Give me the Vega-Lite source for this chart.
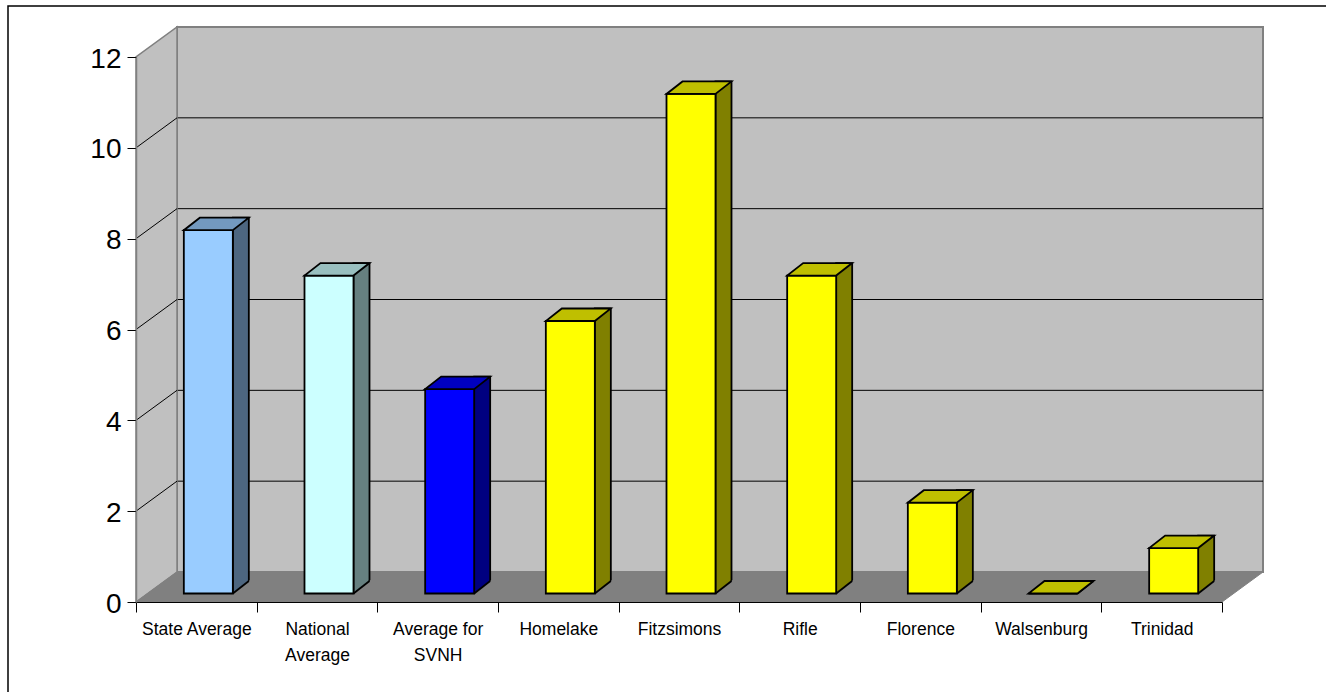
{
  "$schema": "https://vega.github.io/schema/vega-lite/v6.json",
  "width": 1086,
  "height": 545,
  "autosize": {"type": "none"},
  "padding": {"left": 136, "top": 57, "right": 104, "bottom": 90},
  "background": "white",
  "config": {"view": {"stroke": null}},
  "resolve": {"scale": {"fill": "independent"}},
  "layer": [
    {
      "data": {"values": [{}]},
      "mark": {"type": "rect", "fill": "transparent", "stroke": "black", "strokeWidth": 1.5, "xOffset": -128, "yOffset": -51, "x2Offset": 300, "y2Offset": 300},
      "encoding": {"x": {"value": 0}, "x2": {"value": "width"}, "y": {"value": 0}, "y2": {"value": "height"}}
    },
    {
      "data": {"values": [{}]},
      "mark": {"type": "rect", "fill": "#c0c0c0", "stroke": "#808080", "strokeWidth": 2, "xOffset": 41, "x2Offset": 41, "yOffset": -30, "y2Offset": -30},
      "encoding": {"x": {"value": 0}, "x2": {"value": "width"}, "y": {"datum": 12, "type": "quantitative"}, "y2": {"datum": 0}}
    },
    {
      "data": {"values": [{"v": 2}, {"v": 4}, {"v": 6}, {"v": 8}, {"v": 10}]},
      "mark": {"type": "rule", "color": "black", "strokeWidth": 1, "xOffset": 41, "x2Offset": 41, "yOffset": -30},
      "encoding": {"x": {"value": 0}, "x2": {"value": "width"}, "y": {"field": "v", "type": "quantitative"}}
    },
    {
      "data": {"values": [{}]},
      "mark": {"type": "point", "shape": "M0,0L0,-54.5L4.1,-57.5L4.1,-3Z", "size": 400, "filled": true, "fill": "#c0c0c0", "stroke": "#808080", "strokeWidth": 1.5, "opacity": 1},
      "encoding": {"x": {"value": 0}, "y": {"datum": 0, "type": "quantitative"}}
    },
    {
      "data": {"values": [{"v": 2}, {"v": 4}, {"v": 6}, {"v": 8}, {"v": 10}]},
      "mark": {"type": "rule", "color": "black", "strokeWidth": 1, "x2Offset": 41, "y2Offset": -30},
      "encoding": {"x": {"value": 0}, "x2": {"value": 0}, "y": {"field": "v", "type": "quantitative"}, "y2": {"field": "v"}}
    },
    {
      "data": {"values": [{}]},
      "mark": {"type": "point", "shape": "M0,0L108.6,0L112.7,-3L4.1,-3Z", "size": 400, "filled": true, "fill": "#808080", "stroke": "#808080", "strokeWidth": 1, "opacity": 1},
      "encoding": {"x": {"value": 0}, "y": {"datum": 0, "type": "quantitative"}}
    },
    {
      "data": {"name": "bars", "values": [
        {"cat": "State Average", "value": 8},
        {"cat": "National Average", "value": 7},
        {"cat": "Average for SVNH", "value": 4.5},
        {"cat": "Homelake", "value": 6},
        {"cat": "Fitzsimons", "value": 11},
        {"cat": "Rifle", "value": 7},
        {"cat": "Florence", "value": 2},
        {"cat": "Walsenburg", "value": 0},
        {"cat": "Trinidad", "value": 1}
      ]},
      "resolve": {"scale": {"fill": "independent"}},
      "layer": [
        {
          "mark": {"type": "bar", "width": 16, "xOffset": 44.5, "yOffset": -21, "y2Offset": -8.5, "stroke": "black", "strokeWidth": 1.8},
          "encoding": {
            "x": {"field": "cat", "type": "nominal", "sort": null,
              "scale": {"domain": ["State Average", "National Average", "Average for SVNH", "Homelake", "Fitzsimons", "Rifle", "Florence", "Walsenburg", "Trinidad"], "paddingInner": 0, "paddingOuter": 0},
              "axis": {"title": null, "tickBand": "extent", "domainColor": "black", "domainWidth": 1, "tickColor": "black", "tickSize": 10, "labelFont": "Liberation Sans, Arial, sans-serif", "labelFontSize": 17.5, "labelColor": "black", "labelPadding": 8, "labelAngle": 0, "labelLineHeight": 26, "labelLimit": 0, "zindex": 1,
                "labelExpr": "datum.value == 'National Average' ? ['National', 'Average'] : datum.value == 'Average for SVNH' ? ['Average for', 'SVNH'] : datum.value"}},
            "y": {"field": "value", "type": "quantitative",
              "scale": {"domain": [0, 12], "nice": false},
              "axis": {"title": null, "values": [0, 2, 4, 6, 8, 10, 12], "grid": false, "domainColor": "#808080", "domainWidth": 1.5, "tickColor": "black", "tickSize": 9, "labelFont": "Liberation Sans, Arial, sans-serif", "labelFontSize": 28, "labelColor": "black", "labelPadding": 6, "labelOffset": 2, "zindex": 1}},
            "y2": {"datum": 0},
            "fill": {"field": "cat", "type": "nominal", "legend": null,
              "scale": {"domain": ["State Average", "National Average", "Average for SVNH", "Homelake", "Fitzsimons", "Rifle", "Florence", "Walsenburg", "Trinidad"],
                "range": ["#4d6680", "#668080", "#000080", "#808000", "#808000", "#808000", "#808000", "#808000", "#808000"]}}
          }
        },
        {
          "mark": {"type": "point", "shape": "M-0.12,0.09L1.72,-1.34L1.85,-1.34L1.85,0.2L-0.12,0.2Z", "size": 400, "filled": true, "fill": "#808080", "strokeWidth": 0, "opacity": 1, "xOffset": 36.5, "yOffset": -8.5},
          "encoding": {"x": {"field": "cat", "type": "nominal", "sort": null}, "y": {"datum": 0, "type": "quantitative"}}
        },
        {
          "mark": {"type": "point", "shape": "M0,0L1.6,-1.25", "size": 400, "filled": false, "stroke": "black", "strokeWidth": 1.8, "opacity": 1, "xOffset": 36.5, "yOffset": -8.5},
          "encoding": {"x": {"field": "cat", "type": "nominal", "sort": null}, "y": {"datum": 0, "type": "quantitative"}}
        },
        {
          "mark": {"type": "bar", "width": 49, "xOffset": 12, "yOffset": -8.5, "y2Offset": -8.5, "stroke": "black", "strokeWidth": 1.8},
          "encoding": {
            "x": {"field": "cat", "type": "nominal", "sort": null},
            "y": {"field": "value", "type": "quantitative"},
            "y2": {"datum": 0},
            "fill": {"field": "cat", "type": "nominal", "legend": null,
              "scale": {"domain": ["State Average", "National Average", "Average for SVNH", "Homelake", "Fitzsimons", "Rifle", "Florence", "Walsenburg", "Trinidad"],
                "range": ["#99ccff", "#ccffff", "#0000ff", "#ffff00", "#ffff00", "#ffff00", "#ffff00", "#ffff00", "#ffff00"]}}
          }
        },
        {
          "mark": {"type": "point", "shape": "M0,0L4.9,0L6.5,-1.25L1.6,-1.25Z", "size": 400, "filled": true, "stroke": "black", "strokeWidth": 1.8, "opacity": 1, "xOffset": -12.5, "yOffset": -8.5},
          "encoding": {
            "x": {"field": "cat", "type": "nominal", "sort": null},
            "y": {"field": "value", "type": "quantitative"},
            "fill": {"field": "cat", "type": "nominal", "legend": null,
              "scale": {"domain": ["State Average", "National Average", "Average for SVNH", "Homelake", "Fitzsimons", "Rifle", "Florence", "Walsenburg", "Trinidad"],
                "range": ["#7399bf", "#99bfbf", "#0000c0", "#bfbf00", "#bfbf00", "#bfbf00", "#bfbf00", "#bfbf00", "#bfbf00"]}}
          }
        }
      ]
    }
  ]
}
